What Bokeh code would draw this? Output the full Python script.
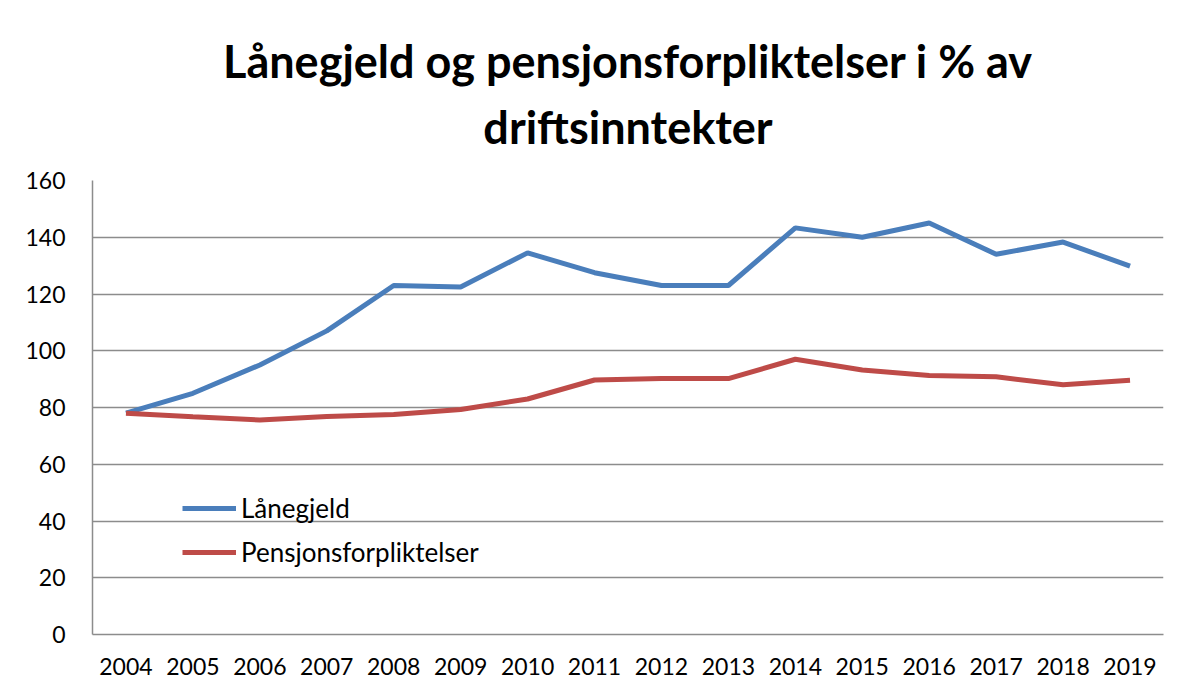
from bokeh.plotting import figure
from bokeh.models import Title, Legend, LegendItem, FixedTicker
from bokeh.embed import file_html
from bokeh.resources import INLINE

years = [str(y) for y in range(2004, 2020)]
laanegjeld = [78, 85, 95, 107, 123, 122.5, 134.5, 127.5, 123, 123, 143.3, 140, 145, 134, 138.3, 129.8]
pensjon = [78, 76.7, 75.6, 76.8, 77.5, 79.3, 83, 89.7, 90.2, 90.2, 97, 93.2, 91.3, 90.8, 88, 89.6]
yticks = [0, 20, 40, 60, 80, 100, 120, 140, 160]
title_line1 = "Lånegjeld og pensjonsforpliktelser i % av"
title_line2 = "driftsinntekter"

FONT = "Lato"
BLUE = "#4A7EBB"
RED = "#BE4B48"

p = figure(x_range=years, y_range=(0, 160), width=1168, height=690,
           output_backend="svg", toolbar_location=None,
           min_border_left=92, min_border_right=5, min_border_bottom=56, min_border_top=180)

p.add_layout(Title(text=title_line2, align="center", text_font=FONT,
                   text_font_size="45px", text_font_style="bold", text_color="#000000",
                   standoff=54), "above")
p.add_layout(Title(text=title_line1, align="center", text_font=FONT,
                   text_font_size="45px", text_font_style="bold", text_color="#000000",
                   standoff=-34), "above")

r1 = p.line(years, laanegjeld, line_color=BLUE, line_width=5)
r2 = p.line(years, pensjon, line_color=RED, line_width=5)

legend = Legend(items=[LegendItem(label="Lånegjeld", renderers=[r1]),
                       LegendItem(label="Pensjonsforpliktelser", renderers=[r2])],
                location=(90, 60), orientation="vertical",
                glyph_width=54, glyph_height=44, label_standoff=5, spacing=0,
                padding=0, margin=0, border_line_color=None, background_fill_alpha=0,
                label_text_font=FONT, label_text_font_size="26px", label_text_color="#000000")
p.add_layout(legend)

p.xgrid.grid_line_color = None
p.ygrid.grid_line_color = "#8c8c8c"
p.ygrid.grid_line_width = 1.5
p.yaxis.ticker = FixedTicker(ticks=yticks)
p.outline_line_color = None

for ax in (p.xaxis, p.yaxis):
    ax.axis_line_color = "#8c8c8c"
    ax.axis_line_width = 1.5
    ax.major_tick_line_color = None
    ax.minor_tick_line_color = None
    ax.major_label_text_font = FONT
    ax.major_label_text_font_size = "23px"
    ax.major_label_text_color = "#000000"
p.yaxis.major_label_standoff = 21
p.xaxis.major_label_standoff = 17

open("out.html", "w").write(file_html(p, INLINE))
